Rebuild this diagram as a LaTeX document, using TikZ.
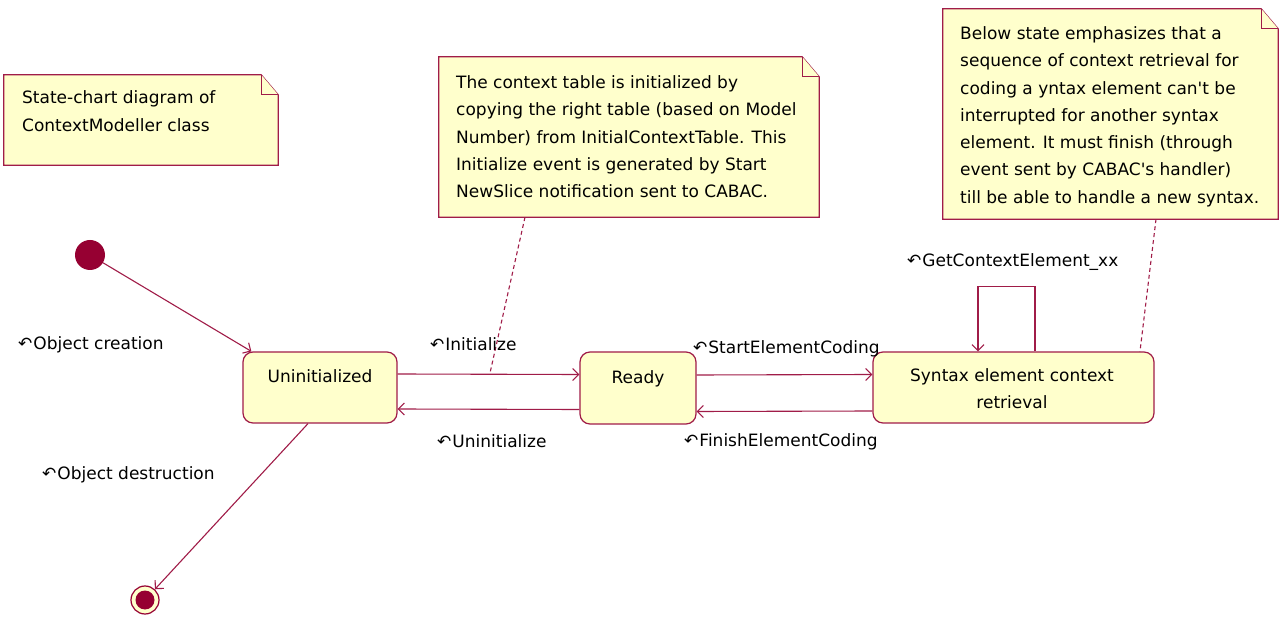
\documentclass[tikz,border=0pt]{standalone}
\usepackage{fontspec}
\setmainfont{DejaVu Sans}
\usetikzlibrary{arrows.meta}
\definecolor{umlline}{RGB}{160,28,72}
\definecolor{umlfill}{RGB}{255,255,204}
\definecolor{umldot}{RGB}{150,0,50}
\newcommand\evt{↶\kern1pt}
\newcommand\leftlines[1]{\begin{tabular}[t]{@{}l@{}}#1\end{tabular}}
\newcommand\midlines[1]{\begin{tabular}[t]{@{}c@{}}#1\end{tabular}}
\newcommand\notepath[1]{%
  \draw[noteline] (#1.south west) -- (#1.north west) -- ([xshift=-17pt]#1.north east)
    -- ([yshift=-20pt]#1.north east) -- (#1.south east) -- cycle;
  \draw[noteline] ([xshift=-17pt]#1.north east) |- ([yshift=-20pt]#1.north east);}
\begin{document}
\begin{tikzpicture}[x=1pt,y=-1pt,
  txt/.style={inner sep=0pt, anchor=base west,
    font=\fontsize{17}{27.3}\selectfont},
  ctxt/.style={txt, anchor=base},
  state/.style={draw=umlline, fill=umlfill, rounded corners=10pt, line width=1.2pt, inner sep=0pt},
  notebox/.style={inner sep=0pt},
  noteline/.style={draw=umlline, fill=umlfill, line width=1.2pt},
  trans/.style={draw=umlline, line width=1.1pt, -{Straight Barb[length=6pt,width=12pt]}},
  link/.style={draw=umlline, line width=1.1pt, dash pattern=on 4pt off 3pt},
  initial/.style={circle, fill=umldot, minimum size=30pt, inner sep=0pt},
  final/.style={circle, draw=umldot, line width=1.2pt, fill=umlfill, minimum size=28pt, inner sep=0pt,
    path picture={\fill[umldot] (path picture bounding box.center) circle (9.5pt);}}
]
\useasboundingbox (0,0) rectangle (1283,617);
\fill[white] (0,0) rectangle (1283,617);

% notes
\node[notebox, minimum width=274pt, minimum height=90pt] (n1) at (141,120) {};
\notepath{n1}
\node[txt] (n1t) at (22,104) {\leftlines{State-chart diagram of\\ContextModeller class}};

\node[notebox, minimum width=380pt, minimum height=160pt] (n2) at (629,137) {};
\notepath{n2}
\node[txt] (n2t) at (456,88.5) {\leftlines{The context table is initialized by\\copying the right table (based on Model\\Number) from InitialContextTable. This\\Initialize event is generated by Start\\NewSlice notification sent to CABAC.}};

\node[notebox, minimum width=335pt, minimum height=210pt] (n3) at (1110.5,114) {};
\notepath{n3}
\node[txt] (n3t) at (960,39.5) {\leftlines{Below state emphasizes that a\\sequence of context retrieval for\\coding a yntax element can\textquotesingle t be\\interrupted for another syntax\\element. It must finish (through\\event sent by CABAC\textquotesingle s handler)\\till be able to handle a new syntax.}};

% states
\node[state, minimum width=154pt, minimum height=71pt] (uninit) at (320,387.5) {};
\node[ctxt] (uninitt) at (320,382.5) {Uninitialized};
\node[state, minimum width=116pt, minimum height=72pt] (ready) at (638,388) {};
\node[ctxt] (readyt) at (638,383.5) {Ready};
\node[state, minimum width=281pt, minimum height=71pt] (syn) at (1013.5,387.5) {};
\node[ctxt] (synt) at (1012,381.5) {\midlines{Syntax element context\\retrieval}};

\node[initial] (init) at (90,255) {};
\node[final] (fin) at (145,600) {};

% note anchors
\coordinate (c2) at (490,373);
\draw[link] ([xshift=-104pt]n2.south) -- (c2);
\draw[link] ([xshift=45.5pt]n3.south) -- ([xshift=126.5pt]syn.north);

% transitions
\draw[trans] (init) -- ([xshift=9pt]uninit.north west);
\draw[trans] ([xshift=-12pt]uninit.south) -- (fin);
\draw[trans] ([yshift=13.5pt]uninit.east) -- ([yshift=13.5pt]ready.west);
\draw[trans] ([yshift=-21.5pt]ready.west) -- ([yshift=-21.5pt]uninit.east);
\draw[trans] ([yshift=13pt]ready.east) -- ([yshift=13pt]syn.west);
\draw[trans] ([yshift=-23.5pt]syn.west) -- ([yshift=-23.5pt]ready.east);
\draw[trans] ([xshift=21.5pt]syn.north) -- ++(0,-65) -- ++(-57,0) -- ([xshift=-35.5pt]syn.north);

% event labels
\node[txt] (l1) at (18,349.5) {\evt Object creation};
\node[txt] (l2) at (430,350.5) {\evt Initialize};
\node[txt] (l3) at (437,447.5) {\evt Uninitialize};
\node[txt] (l4) at (693,354) {\evt StartElementCoding};
\node[txt] (l5) at (684,446.5) {\evt FinishElementCoding};
\node[txt] (l6) at (907,266.5) {\evt GetContextElement\_xx};
\node[txt] (l7) at (42,479.5) {\evt Object destruction};
\end{tikzpicture}
\end{document}
